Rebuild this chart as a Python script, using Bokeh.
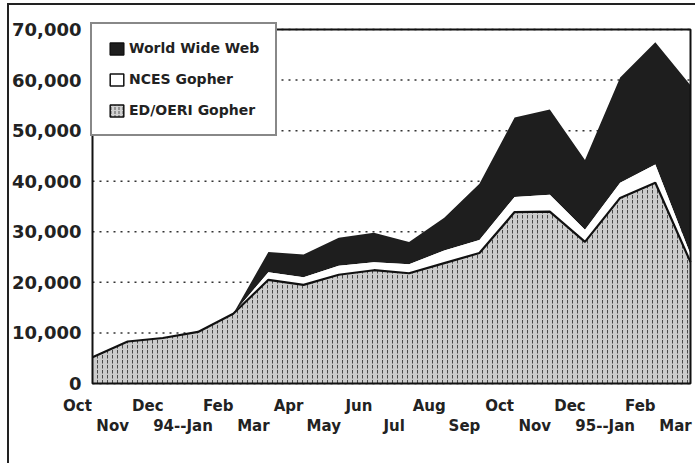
import numpy as np
from bokeh.plotting import figure
from bokeh.models import Range1d, ColumnDataSource, Legend, LegendItem
from bokeh.core.properties import value
from bokeh.embed import file_html
from bokeh.resources import INLINE

months = ["Oct", "Nov", "Dec", "94--Jan", "Feb", "Mar", "Apr", "May", "Jun", "Jul",
          "Aug", "Sep", "Oct", "Nov", "Dec", "95--Jan", "Feb", "Mar"]
ed_oeri = [5200, 8300, 9000, 10200, 13800, 20500, 19500, 21500, 22400, 21800,
           23800, 25800, 33900, 34000, 28000, 36700, 39700, 24000]
nces = [0, 0, 0, 0, 0, 1500, 1500, 1800, 1600, 1800,
        2500, 2600, 3000, 3300, 2400, 3000, 3600, 1500]
www = [0, 0, 0, 0, 0, 4000, 4500, 5500, 5800, 4400,
       6500, 11100, 15700, 16900, 13800, 20800, 24200, 33500]
y_ticks = [0, 10000, 20000, 30000, 40000, 50000, 60000, 70000]
y_labels = [f"{v:,}" for v in y_ticks]

x = list(range(len(months)))
s1 = np.array(ed_oeri)
s2 = s1 + np.array(nces)
s3 = s2 + np.array(www)
# staggered rows for the month labels (the slanted originals cannot be rotated here)
row_off = [22 if i % 2 == 0 else 42 for i in x]
src = ColumnDataSource(dict(x=x, zero=[0] * len(x), s1=s1, s2=s2, s3=s3, label=months,
                            yoff=row_off))
ysrc = ColumnDataSource(dict(y=y_ticks, lab=y_labels, x0=[x[0]] * len(y_ticks),
                             x1=[x[-1]] * len(y_ticks)))

# geometry (pixels inside the canvas)
W, H = 688, 460
BOX_L, BOX_R, BOX_T, BOX_B = 83, 681, 24, 378
ppx = (BOX_R - BOX_L) / (x[-1] - x[0])
ppy = (BOX_B - BOX_T) / (y_ticks[-1] - y_ticks[0])
xr = Range1d(x[0] - BOX_L / ppx, x[-1] + (W - BOX_R) / ppx)
yr = Range1d(y_ticks[0] - (H - BOX_B) / ppy, y_ticks[-1] + BOX_T / ppy)

FONT = value("DejaVu Sans")

p = figure(width=W, height=H, output_backend="svg", toolbar_location=None,
           x_range=xr, y_range=yr, x_axis_location=None, y_axis_location=None,
           min_border=0)
p.background_fill_color = "white"
p.border_fill_color = "white"
p.outline_line_color = None
p.grid.visible = False
p.styles = {"margin-left": "7px", "margin-top": "3px",
            "border-left": "2px solid #222222", "border-top": "2px solid #222222"}

# dotted gridlines
p.segment(x0="x0", x1="x1", y0="y", y1="y", source=ysrc, line_color="#333333",
          line_dash="2 5", line_width=1.5)

# stacked areas
p.varea(x="x", y1="s2", y2="s3", source=src, fill_color="#1e1e1e")
p.varea(x="x", y1="s1", y2="s2", source=src, fill_color="white")
p.varea(x="x", y1="zero", y2="s1", source=src, fill_color="#cccccc",
        hatch_pattern=":", hatch_color="#333333", hatch_scale=5, hatch_alpha=0.85)
p.line(x="x", y="s1", source=src, line_color="#111111", line_width=2.2)

# plot box
p.quad(left=[x[0]], right=[x[-1]], bottom=[y_ticks[0]], top=[y_ticks[-1]],
       fill_color=None, line_color="#111111", line_width=2)

# y tick labels
p.text(x="x0", y="y", text="lab", source=ysrc, text_align="right", text_baseline="middle",
       x_offset=-11, text_font=FONT, text_font_style="bold", text_font_size="18px",
       text_color="#222222")

# x tick labels, staggered in two rows
p.text(x="x", y="zero", text="label", source=src, text_align="center",
       text_baseline="middle", x_offset=-15, y_offset="yoff", text_font=FONT,
       text_font_style="bold", text_font_size="15px", text_color="#222222")

# legend swatches (zero-area quads at origin)
sw = ColumnDataSource(dict(l=[x[0]], r=[x[0]], t=[0], b=[0]))
r_www = p.quad(source=sw, left="l", right="r", top="t", bottom="b",
               fill_color="#1e1e1e", line_color="#111111", line_width=1.5)
r_nces = p.quad(source=sw, left="l", right="r", top="t", bottom="b",
                fill_color="white", line_color="#111111", line_width=1.5)
r_ed = p.quad(source=sw, left="l", right="r", top="t", bottom="b",
              fill_color="#d0d0d0", line_color="#111111", line_width=1.5,
              hatch_pattern=":", hatch_color="#555555", hatch_scale=4)

PAD, GH, SP = 16, 15, 15
LEG_H = 2 * PAD + 3 * GH + 2 * SP
legend = Legend(items=[LegendItem(label="World Wide Web", renderers=[r_www]),
                       LegendItem(label="NCES Gopher", renderers=[r_nces]),
                       LegendItem(label="ED/OERI Gopher", renderers=[r_ed])],
                location=(BOX_L - 2, H - BOX_T - LEG_H))
legend.margin = 0
legend.padding = PAD
legend.spacing = SP
legend.glyph_width = 17
legend.glyph_height = GH
legend.label_height = GH
legend.label_standoff = 4
legend.label_text_font = "DejaVu Sans"
legend.label_text_font_style = "bold"
legend.label_text_font_size = "14px"
legend.label_text_color = "#222222"
legend.border_line_color = "#111111"
legend.border_line_width = 2
legend.background_fill_color = "white"
legend.background_fill_alpha = 1
p.add_layout(legend, "center")

open("out.html", "w").write(file_html(p, INLINE))
